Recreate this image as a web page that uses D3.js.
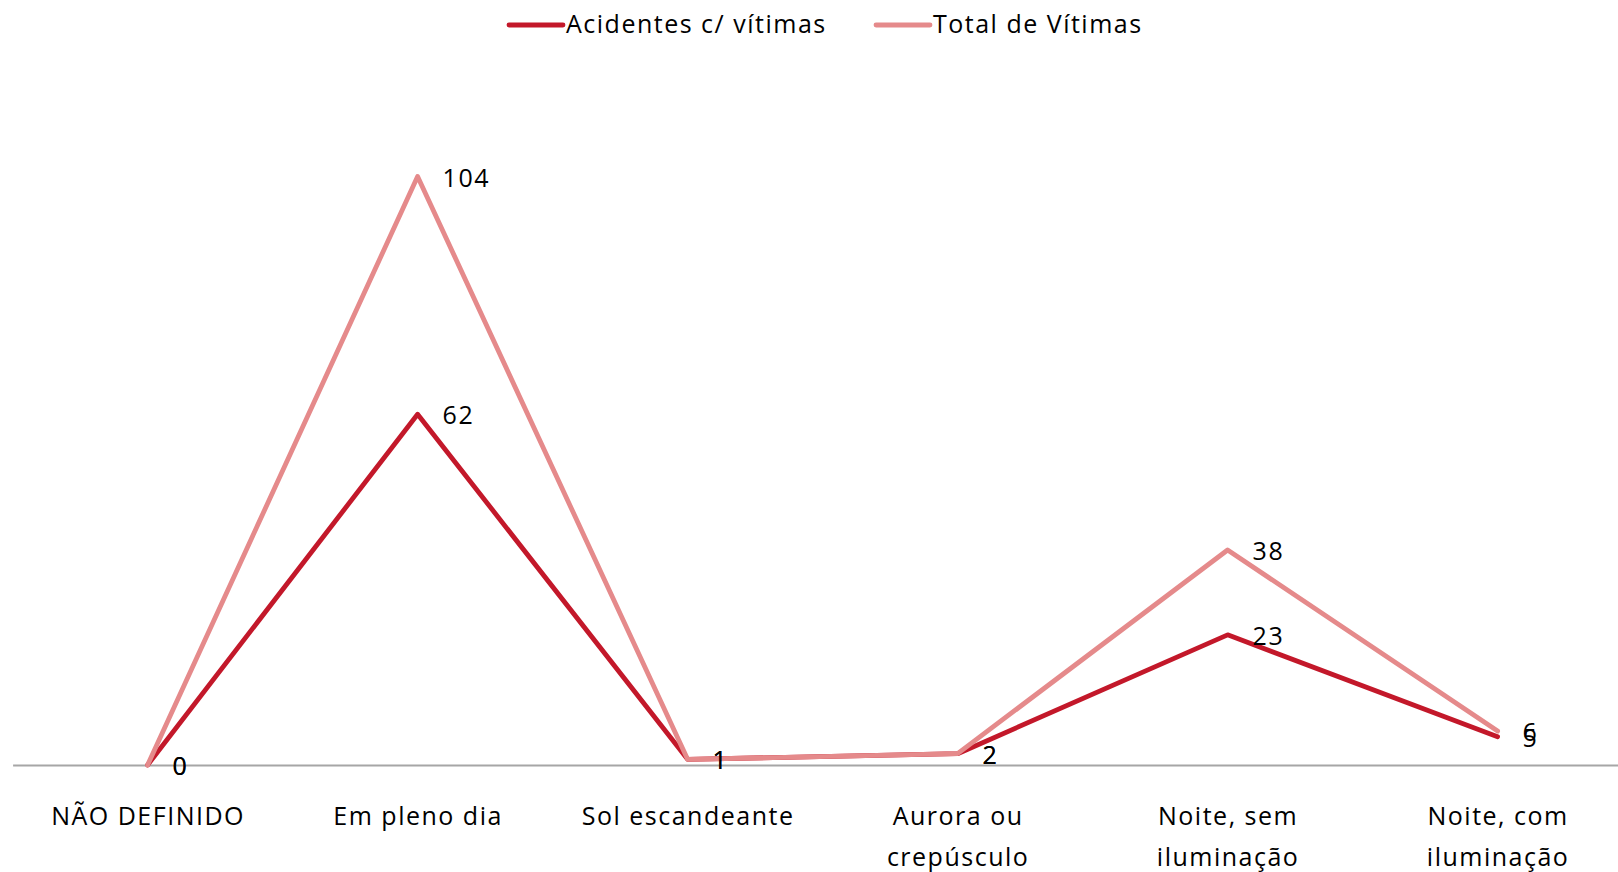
<!DOCTYPE html>
<html lang="pt">
<head>
  <meta charset="UTF-8">
  <title>Acidentes por luminosidade</title>
  <script src="https://d3js.org/d3.v7.min.js"></script>
  <style>
    body {
      margin: 0;
      padding: 0;
      background: #fff;
      overflow: hidden;
    }
    svg text {
      font-family: "Open Sans", "Noto Sans", sans-serif;
      letter-spacing: 1.5px;
      fill: #000;
    }
  </style>
</head>
<body>
  <div id="chart"></div>

  <script>
    // categories and tick labels ("|" = line break)
    const categories = ["NÃO DEFINIDO", "Em pleno dia", "Sol escandeante", "Aurora ou crepúsculo", "Noite, sem iluminação", "Noite, com iluminação"];
    const tickLabels = ["NÃO DEFINIDO", "Em pleno dia", "Sol escandeante", "Aurora ou|crepúsculo", "Noite, sem|iluminação", "Noite, com|iluminação"];

    const seriesNames = ["Acidentes c/ vítimas", "Total de Vítimas"];
    const acidentes = [0, 62, 1, 2, 23, 5];
    const totalVitimas = [0, 104, 1, 2, 38, 6];
    const seriesColors = ["#C3182A", "#E58A8B"];

    const width = 1618;
    const height = 872;
    const fontSize = 25;

    const svg = d3.select("#chart")
      .append("svg")
      .attr("width", width)
      .attr("height", height);

    const x = d3.scalePoint()
      .domain(categories)
      .range([12.6, 1632.6])
      .padding(0.5);

    const y = d3.scaleLinear()
      .domain([0, 120])
      .range([765, 86]);

    // category axis
    const xAxis = svg.append("g")
      .attr("transform", `translate(0,${y(0)})`)
      .call(d3.axisBottom(x).tickSize(0).tickFormat((d, i) => tickLabels[i]));

    xAxis.select(".domain")
      .attr("stroke", "#A6A6A6")
      .attr("stroke-width", 2);

    xAxis.selectAll(".tick text").each(function (d, i) {
      const t = d3.select(this);
      const lines = tickLabels[i].split("|");
      t.text(null)
        .attr("y", 0)
        .attr("dy", null)
        .style("font-size", fontSize + "px");
      lines.forEach((ln, k) => {
        t.append("tspan")
          .attr("x", 0)
          .attr("y", 50 + k * 41)
          .attr("dominant-baseline", "central")
          .text(ln);
      });
    });

    const series = [
      { name: seriesNames[0], values: acidentes, color: seriesColors[0] },
      { name: seriesNames[1], values: totalVitimas, color: seriesColors[1] }
    ];

    const line = d3.line()
      .x((d, i) => x(categories[i]))
      .y(d => y(d));

    series.forEach(s => {
      svg.append("path")
        .datum(s.values)
        .attr("fill", "none")
        .attr("stroke", s.color)
        .attr("stroke-width", 4.8)
        .attr("stroke-linejoin", "round")
        .attr("stroke-linecap", "round")
        .attr("d", line);
    });

    // data labels
    series.forEach(s => {
      svg.append("g")
        .selectAll("text")
        .data(s.values)
        .join("text")
        .attr("x", (d, i) => x(categories[i]) + 25)
        .attr("y", d => y(d))
        .attr("dominant-baseline", "central")
        .style("font-size", fontSize + "px")
        .text(d => d);
    });

    // legend
    const legendX = [509, 876];
    const legend = svg.append("g")
      .selectAll("g")
      .data(series)
      .join("g")
      .attr("transform", (d, i) => `translate(${legendX[i]},25)`);

    legend.append("line")
      .attr("x1", 0)
      .attr("x2", 54)
      .attr("stroke", d => d.color)
      .attr("stroke-width", 4.8)
      .attr("stroke-linecap", "round");

    legend.append("text")
      .attr("x", 57)
      .attr("y", -2)
      .attr("dominant-baseline", "central")
      .style("font-size", fontSize + "px")
      .text(d => d.name);
  </script>
</body>
</html>
